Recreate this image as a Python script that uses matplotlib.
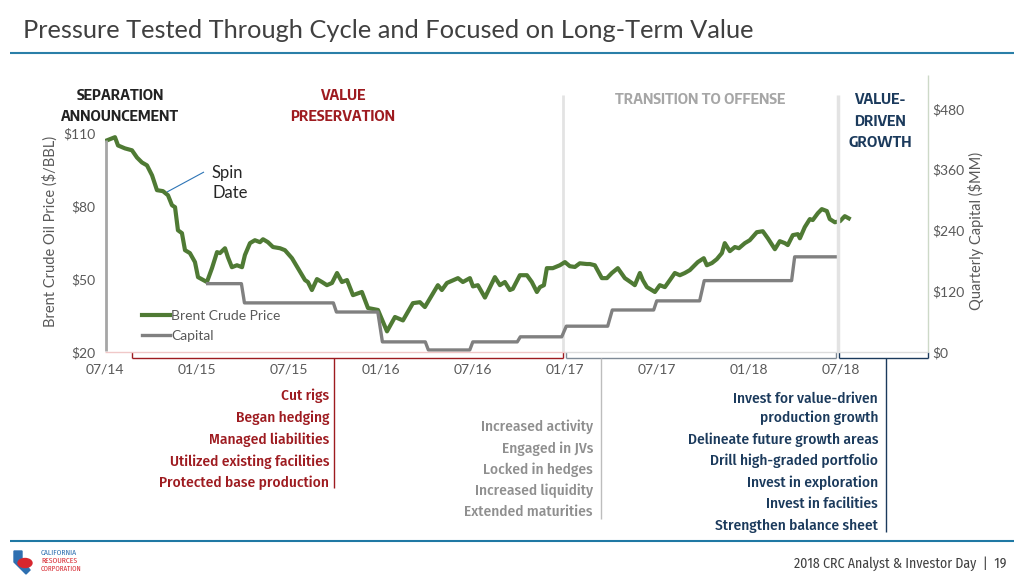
import matplotlib
matplotlib.use("Agg")
from matplotlib import pyplot as plt
from matplotlib.lines import Line2D
from matplotlib.patches import Polygon, Ellipse

# Brent crude price, months since Jul 2014 vs $/bbl
brent_month = [0.13, 0.65, 0.85, 1.30, 1.76, 2.09, 2.41, 2.74, 3.07, 3.39, 3.78, 4.11, 4.37, 4.57,
               4.76, 5.02, 5.22, 5.54, 5.87, 6.07, 6.65, 6.98, 7.31, 7.50, 7.83, 8.02, 8.28, 8.61,
               8.94, 9.13, 9.46, 9.78, 10.11, 10.31, 10.63, 10.96, 11.42, 11.74, 12.20, 12.59,
               13.05, 13.24, 13.50, 13.83, 14.16, 14.48, 14.81, 15.14, 15.46, 15.79, 16.18, 16.76,
               17.16, 17.81, 18.40, 18.92, 19.44, 20.09, 20.55, 20.87, 21.20, 21.72, 21.98, 22.31,
               23.03, 23.35, 23.81, 24.01, 24.33, 24.79, 25.44, 25.77, 26.09, 26.42, 26.61, 27.07,
               27.53, 27.85, 28.18, 28.38, 28.64, 28.83, 29.22, 29.68, 30.01, 30.33, 30.66, 30.98,
               31.44, 31.64, 31.96, 32.42, 32.75, 33.07, 33.46, 33.92, 34.38, 34.57, 34.90, 35.09,
               35.36, 35.88, 36.20, 36.53, 36.86, 37.18, 37.51, 37.83, 38.16, 38.68, 39.07, 39.27,
               39.60, 39.92, 40.25, 40.44, 40.77, 41.10, 41.36, 41.75, 42.07, 42.53, 42.92, 43.25,
               43.71, 44.03, 44.36, 44.55, 44.88, 45.21, 45.34, 45.66, 45.99, 46.18, 46.51, 46.77,
               47.10, 47.29, 47.62, 47.95, 48.27, 48.53]
brent_price = [107.1, 108.4, 105.0, 103.8, 103.0, 100.0, 98.0, 96.8, 92.7, 86.6, 86.2, 84.5, 80.4, 79.6,
               70.1, 68.9, 61.9, 60.7, 57.0, 50.8, 48.8, 54.5, 61.1, 60.7, 62.7, 59.0, 54.9, 55.7,
               54.9, 59.9, 64.8, 66.0, 65.2, 66.4, 65.2, 63.2, 62.7, 61.9, 58.6, 54.5,
               49.6, 48.8, 45.5, 50.0, 48.8, 47.5, 48.4, 52.5, 48.8, 49.6, 43.4, 44.7,
               38.1, 37.3, 28.5, 34.4, 33.0, 40.1, 40.5, 38.5, 42.0, 47.5, 45.5, 48.4,
               50.4, 48.8, 50.4, 47.0, 47.5, 42.4, 50.8, 47.5, 48.8, 45.5, 46.0, 51.6,
               51.6, 48.8, 44.7, 46.7, 47.5, 54.5, 54.5, 55.7, 57.0, 55.3, 55.0, 56.5,
               56.2, 56.2, 55.7, 50.4, 50.4, 52.5, 54.5, 50.4, 48.4, 47.5, 52.5, 49.6,
               46.7, 44.7, 47.5, 46.7, 49.6, 52.5, 51.6, 52.5, 53.7, 57.0, 58.6, 55.7,
               56.6, 58.2, 60.7, 64.8, 61.5, 63.2, 62.7, 64.8, 66.0, 69.3, 69.7, 66.8,
               62.3, 65.6, 64.8, 64.0, 68.1, 68.5, 66.8, 71.4, 74.7, 74.3, 77.1, 78.8,
               78.0, 74.7, 73.4, 73.8, 75.9, 75.0]

# quarterly capital ($MM), each level from start month to end month
cap_start = [6.7, 9.1, 15.1, 18.1, 21.1, 24.0, 27.1, 30.1, 33.1, 36.0, 39.1, 45.0]
cap_end = [8.9, 14.9, 17.8, 20.9, 23.8, 26.9, 29.8, 32.8, 35.8, 38.8, 44.8, 47.8]
cap_value = [135, 97, 79, 20, 4, 20, 30, 51, 83, 101, 141, 188]

x_ticks = [0, 6, 12, 18, 24, 30, 36, 42, 48]
x_labels = ['07/14', '01/15', '07/15', '01/16', '07/16', '01/17', '07/17', '01/18', '07/18']
left_ticks = [20, 50, 80, 110]
right_ticks = [0, 120, 240, 360, 480]

red_items = ['Cut rigs', 'Began hedging', 'Managed liabilities',
             'Utilized existing facilities', 'Protected base production']
gray_items = ['Increased activity', 'Engaged in JVs', 'Locked in hedges',
              'Increased liquidity', 'Extended maturities']
blue_items = ['Invest for value-driven', 'production growth', 'Delineate future growth areas',
              'Drill high-graded portfolio', 'Invest in exploration', 'Invest in facilities',
              'Strengthen balance sheet']

GREEN = '#4f7a34'
CAPGRAY = '#808080'
RED = '#9e1b20'
BLUE = '#1b3a5c'
LGRAY = '#8f8f8f'
TXT = '#595959'
COND = ['Fira Sans Condensed', 'DejaVu Sans']
HEAD = ['Encode Sans Semi Condensed', 'Fira Sans Condensed', 'DejaVu Sans']

plt.rcParams['font.family'] = ['Lato', 'DejaVu Sans']

W, H = 1024, 576
fig = plt.figure(figsize=(10.24, 5.76), dpi=100)


def px(x, y):
    return x / W, 1 - y / H


def fline(x0, y0, x1, y1, c, lw=1, z=2):
    a, b = px(x0, y0)
    cc, d = px(x1, y1)
    fig.add_artist(Line2D([a, cc], [b, d], color=c, lw=lw, zorder=z, solid_capstyle='butt'))


ax = fig.add_axes([105 / W, 1 - 352 / H, (928 - 105) / W, (352 - 109) / H])
ax.set_facecolor('none')
ax2 = ax.twinx()
ax2.set_facecolor('none')

ax.plot(brent_month, brent_price, color=GREEN, lw=3, solid_joinstyle='round', label='Brent Crude Price')

cx, cy = [], []
for s, e, v in zip(cap_start, cap_end, cap_value):
    cx += [s, e]
    cy += [v, v]
line_cap, = ax2.plot(cx, cy, color=CAPGRAY, lw=2.4, label='Capital')

ax.set_xlim(0, 53.7)
ax.set_ylim(20, 120)
ax2.set_ylim(0, 480)
ax.set_xticks(x_ticks)
ax.set_xticklabels(x_labels)
ax.set_yticks(left_ticks)
ax.set_yticklabels(['${}'.format(v) for v in left_ticks])
ax2.set_yticks(right_ticks)
ax2.set_yticklabels(['${}'.format(v) for v in right_ticks])
for a in (ax, ax2):
    for sp in a.spines.values():
        sp.set_visible(False)
ax.tick_params(axis='x', length=0, pad=8, labelsize=10, labelcolor=TXT)
ax.tick_params(axis='y', length=0, pad=7, labelsize=10, labelcolor=TXT)
ax2.tick_params(axis='y', length=0, pad=3, labelsize=10, labelcolor=TXT)

h1, = ax.get_lines()
leg = ax.legend([h1, line_cap], ['Brent Crude Price', 'Capital'], loc='upper left',
                bbox_to_anchor=px(135, 303), bbox_transform=fig.transFigure, frameon=False,
                handlelength=2.0, handletextpad=0.1, labelspacing=0.6, fontsize=10, borderpad=0)
for t in leg.get_texts():
    t.set_color(TXT)

# axis titles
fig.text(*px(50, 231), 'Brent Crude Oil Price ($/BBL)', rotation=90, ha='center', va='center',
         fontsize=10.5, color=TXT)
fig.text(*px(976, 231), 'Quarterly Capital ($MM)', rotation=90, ha='center', va='center',
         fontsize=10.5, color=TXT)

# phase dividers and baseline
fline(106, 140, 106, 351, '#a6a6a6', 2, 3)
fline(563, 95, 563, 352, '#e3e3e3', 2, -1)
fline(838, 95, 838, 352, '#e3e3e3', 2.5, 5)
fline(928, 75, 928, 352, '#cdd9c8', 1, 3)
fline(105, 352, 565, 352, '#f0c8c8', 1, 3)
fline(565, 352, 928, 352, '#dddddd', 1, 3)

# brackets under the axis
fline(132, 358, 563, 358, RED, 1)
fline(132, 352, 132, 358, RED, 1)
fline(563, 352, 563, 358, RED, 1)
fline(334, 358, 334, 488, RED, 1)
fline(566, 358, 836, 358, '#7f8a96', 1)
fline(566, 352, 566, 358, '#7f8a96', 1)
fline(836, 352, 836, 358, '#7f8a96', 1)
fline(601, 358, 601, 519, '#bdbdbd', 1)
fline(839, 358, 928, 358, BLUE, 1)
fline(839, 352, 839, 358, BLUE, 1)
fline(928, 352, 928, 358, BLUE, 1)
fline(886, 358, 886, 532, BLUE, 1)

# phase headers
hdr = dict(ha='center', va='center', fontsize=10.4, fontweight='bold', family=HEAD, linespacing=1.55)
fig.text(*px(120, 106), 'SEPARATION\nANNOUNCEMENT', color='#222222', **hdr)
fig.text(*px(343, 106), 'VALUE\nPRESERVATION', color=RED, **hdr)
fig.text(*px(700, 100), 'TRANSITION TO OFFENSE', color='#a6a6a6', **hdr)
fig.text(*px(880, 121), 'VALUE-\nDRIVEN\nGROWTH', color=BLUE, **hdr)

# spin date note
fline(167, 192, 204, 172, '#2e75b6', 0.8)
fig.text(*px(212, 183), 'Spin\nDate', ha='left', va='center', fontsize=12, color='#262626',
         linespacing=1.3)

# bullet lists
item = dict(ha='right', va='center', fontsize=11, fontweight='medium', family=COND)
for i, t in enumerate(red_items):
    fig.text(*px(329, 396 + i * 21.8), t, color=RED, **item)
for i, t in enumerate(gray_items):
    fig.text(*px(593, 427 + i * 21.3), t, color=LGRAY, **item)
blue_y = [399, 418, 440, 461, 483, 504, 526]
for t, yy in zip(blue_items, blue_y):
    fig.text(*px(878, yy), t, color=BLUE, **item)

# slide title, rules and footer
fig.text(*px(23, 30), 'Pressure Tested Through Cycle and Focused on Long-Term Value',
         ha='left', va='center', fontsize=18.3, color='#404040')
fline(10, 53, 1014, 53, '#2a7fa8', 1.5)
fline(10, 541, 1014, 541, '#1f78a4', 1.5)
fig.text(*px(1006, 564), '2018 CRC Analyst & Investor Day  |  19', ha='right', va='center',
         fontsize=10, color='#404040', family=COND)

# logo
fig.add_artist(Polygon([px(14, 551), px(22, 551), px(22, 560), px(30, 570), px(26, 574), px(14, 562)],
                       closed=True, transform=fig.transFigure, color='#2e6fb0', zorder=3))
fig.add_artist(Ellipse(px(25, 563), 14 / W, 9 / H, transform=fig.transFigure, color='#d7262e', zorder=4))
fig.text(*px(41, 553), 'CALIFORNIA', fontsize=5.5, color='#2e6fb0', ha='left', va='center', family=COND)
fig.text(*px(41, 561), 'RESOURCES', fontsize=5.5, color='#d7262e', ha='left', va='center', family=COND)
fig.text(*px(41, 569), 'CORPORATION', fontsize=5, color='#d7262e', ha='left', va='center', family=COND)

fig.savefig('out.png', dpi=100)
